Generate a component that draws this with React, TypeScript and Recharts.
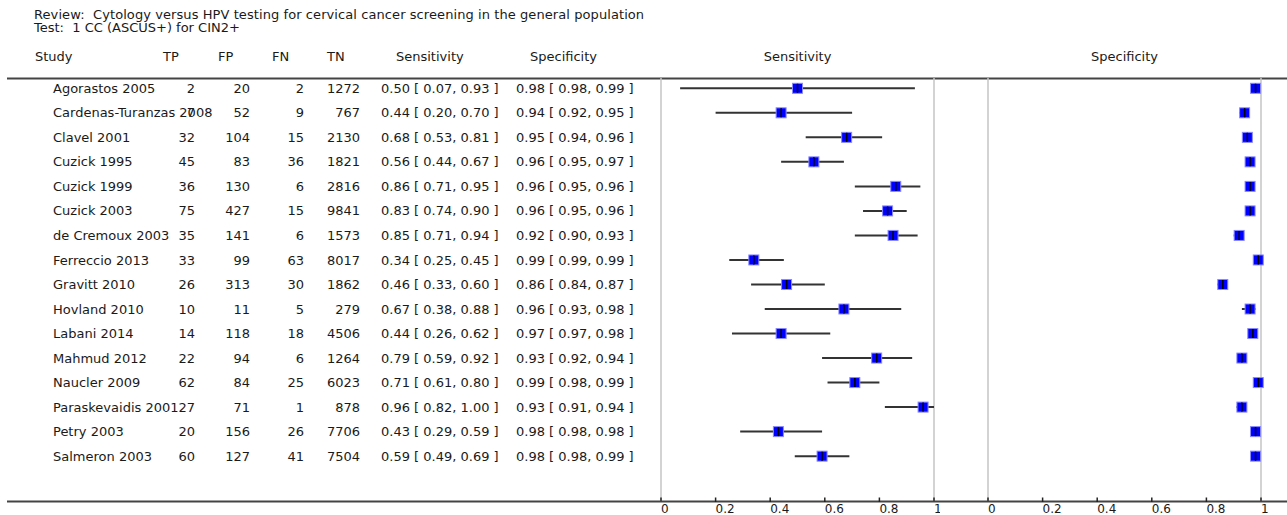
import React from "react";
import { ScatterChart, Scatter, XAxis, YAxis, ErrorBar, ReferenceLine } from "recharts";

const studies = [
  "Agorastos 2005", "Cardenas-Turanzas 2008", "Clavel 2001", "Cuzick 1995", "Cuzick 1999", "Cuzick 2003",
  "de Cremoux 2003", "Ferreccio 2013", "Gravitt 2010", "Hovland 2010", "Labani 2014", "Mahmud 2012",
  "Naucler 2009", "Paraskevaidis 2001", "Petry 2003", "Salmeron 2003",
];
const tp = [2, 7, 32, 45, 36, 75, 35, 33, 26, 10, 14, 22, 62, 27, 20, 60];
const fp = [20, 52, 104, 83, 130, 427, 141, 99, 313, 11, 118, 94, 84, 71, 156, 127];
const fn = [2, 9, 15, 36, 6, 15, 6, 63, 30, 5, 18, 6, 25, 1, 26, 41];
const tn = [1272, 767, 2130, 1821, 2816, 9841, 1573, 8017, 1862, 279, 4506, 1264, 6023, 878, 7706, 7504];
const sens = [0.5, 0.44, 0.68, 0.56, 0.86, 0.83, 0.85, 0.34, 0.46, 0.67, 0.44, 0.79, 0.71, 0.96, 0.43, 0.59];
const sensLo = [0.07, 0.2, 0.53, 0.44, 0.71, 0.74, 0.71, 0.25, 0.33, 0.38, 0.26, 0.59, 0.61, 0.82, 0.29, 0.49];
const sensHi = [0.93, 0.7, 0.81, 0.67, 0.95, 0.9, 0.94, 0.45, 0.6, 0.88, 0.62, 0.92, 0.8, 1.0, 0.59, 0.69];
const spec = [0.98, 0.94, 0.95, 0.96, 0.96, 0.96, 0.92, 0.99, 0.86, 0.96, 0.97, 0.93, 0.99, 0.93, 0.98, 0.98];
const specLo = [0.98, 0.92, 0.94, 0.95, 0.95, 0.95, 0.9, 0.99, 0.84, 0.93, 0.97, 0.92, 0.98, 0.91, 0.98, 0.98];
const specHi = [0.99, 0.95, 0.96, 0.97, 0.96, 0.96, 0.93, 0.99, 0.87, 0.98, 0.98, 0.94, 0.99, 0.94, 0.98, 0.99];
const axisTicks = [0, 0.2, 0.4, 0.6, 0.8, 1];

const rows = studies.map((s, i) => ({
  row: i,
  study: s,
  sens: sens[i],
  sensErr: [sens[i] - sensLo[i], sensHi[i] - sens[i]],
  spec: spec[i],
  specErr: [spec[i] - specLo[i], specHi[i] - spec[i]],
}));
const rowTicks = studies.map((_, i) => i);

const FONT = "'DejaVu Sans', Verdana, sans-serif";
const INK = "#1a1a1a";
const yDomain: [number, number] = [-0.42, 16.87];
const ci = (v: number, lo: number, hi: number) => `${v.toFixed(2)} [ ${lo.toFixed(2)}, ${hi.toFixed(2)} ]`;

function RowTick(props: any) {
  const i = props.payload.value;
  const y = props.y;
  if (i < 0 || i >= studies.length) return null;
  const t = { y, dy: "0.35em", fontFamily: FONT, fontSize: 13, fill: INK };
  return (
    <g>
      <text {...t} x={53}>{studies[i]}</text>
      <text {...t} x={195} textAnchor="end">{tp[i]}</text>
      <text {...t} x={250} textAnchor="end">{fp[i]}</text>
      <text {...t} x={304} textAnchor="end">{fn[i]}</text>
      <text {...t} x={360} textAnchor="end">{tn[i]}</text>
      <text {...t} x={381}>{ci(sens[i], sensLo[i], sensHi[i])}</text>
      <text {...t} x={516}>{ci(spec[i], specLo[i], specHi[i])}</text>
    </g>
  );
}

function XTick(props: any) {
  const { x, y, payload } = props;
  return (
    <g>
      <line x1={x} x2={x} y1={y} y2={y - 4.5} stroke="#222" strokeWidth={1.5} />
      <text x={x} y={y + 11} fontFamily={FONT} fontSize={12} fill={INK}>{String(payload.value)}</text>
    </g>
  );
}

const Box = (p: any) => (
  <rect x={p.cx - 5} y={p.cy - 5} width={10} height={10} fill="#0000ff" stroke="#8a8aff" strokeWidth={1} />
);
const Mark = (p: any) => (
  <line x1={p.cx} x2={p.cx} y1={p.cy - 4.5} y2={p.cy + 4.5} stroke="#000" strokeWidth={1.5} />
);

function Panel({ keyX, errKey, width, margin, showRows }: any) {
  return (
    <ScatterChart width={width} height={540} margin={margin}>
      <XAxis
        type="number"
        dataKey={keyX}
        domain={[0, 1]}
        ticks={axisTicks}
        interval={0}
        height={30}
        axisLine={false}
        tickLine={false}
        tickSize={0}
        tickMargin={0}
        tick={<XTick />}
      />
      <YAxis
        type="number"
        dataKey="row"
        domain={yDomain}
        allowDataOverflow
        reversed
        ticks={rowTicks}
        interval={0}
        width={661}
        hide={!showRows}
        axisLine={false}
        tickLine={false}
        tick={<RowTick />}
      />
      <ReferenceLine x={0} stroke="#c4c4c4" strokeWidth={1.5} />
      <ReferenceLine x={1} stroke="#c4c4c4" strokeWidth={1.5} />
      <Scatter data={rows} shape={Box} isAnimationActive={false} />
      <Scatter data={rows} shape={Mark} isAnimationActive={false}>
        <ErrorBar dataKey={errKey} direction="x" width={0} stroke="#333" strokeWidth={2} isAnimationActive={false} />
      </Scatter>
    </ScatterChart>
  );
}

export default function App() {
  const head = { fontFamily: FONT, fontSize: 13, fill: INK };
  return (
    <div style={{ position: "absolute", left: 0, top: 0, width: 1287, height: 515, overflow: "hidden", background: "#fff" }}>
      <svg width={1287} height={515} style={{ position: "absolute", left: 0, top: 0 }}>
        <text x={34} y={18.5} fontFamily={FONT} fontSize={13} letterSpacing={0.08} fill={INK} style={{ whiteSpace: "pre" }}>
          {"Review:  Cytology versus HPV testing for cervical cancer screening in the general population"}
        </text>
        <text x={34} y={31.5} fontFamily={FONT} fontSize={13} fill={INK} style={{ whiteSpace: "pre" }}>
          {"Test:  1 CC (ASCUS+) for CIN2+"}
        </text>
        <text {...head} x={35} y={60.5}>Study</text>
        <text {...head} x={163} y={60.5}>TP</text>
        <text {...head} x={218} y={60.5}>FP</text>
        <text {...head} x={272} y={60.5}>FN</text>
        <text {...head} x={327} y={60.5}>TN</text>
        <text {...head} x={396} y={60.5}>Sensitivity</text>
        <text {...head} x={530} y={60.5}>Specificity</text>
        <text {...head} x={797.5} y={60.5} textAnchor="middle">Sensitivity</text>
        <text {...head} x={1124.5} y={60.5} textAnchor="middle">Specificity</text>
        <line x1={7} x2={1287} y1={78.5} y2={78.5} stroke="#444" strokeWidth={2} />
        <line x1={7} x2={1287} y1={501.5} y2={501.5} stroke="#444" strokeWidth={2} />
      </svg>
      <div style={{ position: "absolute", left: 0, top: 0 }}>
        <Panel keyX="sens" errKey="sensErr" width={940} margin={{ top: 78, right: 6, bottom: 8, left: 0 }} showRows />
      </div>
      <div style={{ position: "absolute", left: 940, top: 0 }}>
        <Panel keyX="spec" errKey="specErr" width={330} margin={{ top: 78, right: 9, bottom: 8, left: 48 }} showRows={false} />
      </div>
    </div>
  );
}
